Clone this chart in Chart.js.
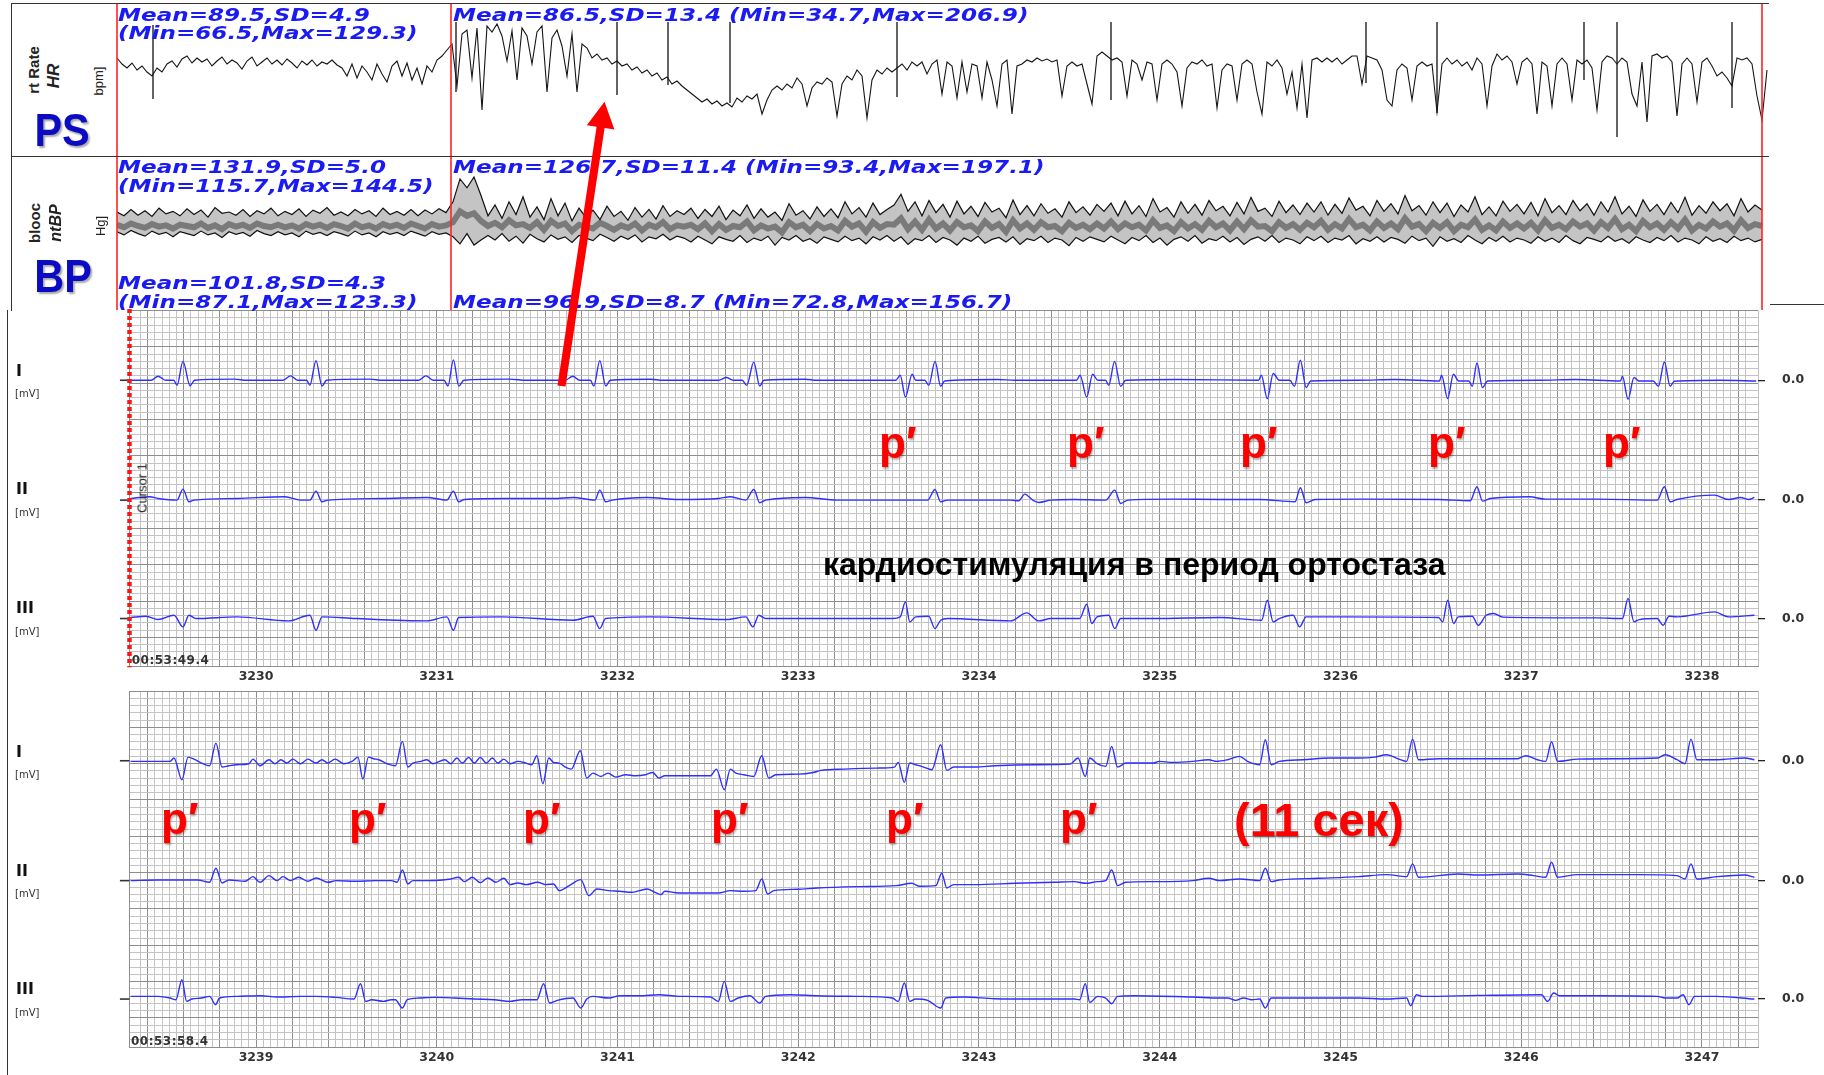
<!DOCTYPE html>
<html lang="ru">
<head>
<meta charset="UTF-8">
<title>Кардиостимуляция в период ортостаза</title>
<script src="https://cdn.jsdelivr.net/npm/chart.js"></script>
<style>
  html, body { margin: 0; padding: 0; background: #fff; }
  #page { position: relative; width: 1824px; height: 1075px; overflow: hidden; background: #fff; }
  #page canvas { position: absolute; }
  .lbl { position: absolute; white-space: nowrap; line-height: 1; }
  .stat { font: italic bold 17.5px "DejaVu Sans", sans-serif; color: #1a1af2; transform: scaleX(1.32); transform-origin: 0 0; }
  .big { font: bold 46px "Liberation Sans", Arial, sans-serif; color: #0b0bc4; text-shadow: 2px 2px 2px rgba(0,0,0,.35); }
  .side { font: bold 15px "Liberation Sans", Arial, sans-serif; color: #222; }
  .lead { font: bold 16px "DejaVu Sans", sans-serif; color: #111; }
  .unit { font: 10px "DejaVu Sans", sans-serif; color: #333; }
  .stamp { font: bold 12px "DejaVu Sans", sans-serif; color: #333; letter-spacing: .5px; }
  .pp { font: bold 44px "Liberation Sans", Arial, sans-serif; color: #f00; text-shadow: 1px 2px 2px rgba(0,0,0,.3); }
  .note { font: bold 32px "Liberation Sans", Arial, sans-serif; color: #000; }
  .rule { position: absolute; background: #333; }
  #arrow { position: absolute; left: 0; top: 0; z-index: 5; }
</style>
</head>
<body>
<div id="page">
  <canvas id="hr" width="1665" height="158" style="left:110px;top:0"></canvas>
  <canvas id="bp" width="1665" height="156" style="left:110px;top:156px"></canvas>
  <canvas id="ecg1" width="1824" height="400" style="left:0;top:295px"></canvas>
  <canvas id="ecg2" width="1824" height="399" style="left:0;top:676px"></canvas>
  <svg id="arrow" width="1824" height="1075">
    <polygon points="557.5,385.4 596.6,126.8 586.8,125.3 604.5,101.7 614.4,129.5 604.6,128 565.5,386.6" fill="#ff0000"/>
  </svg>
</div>

<script>
// ---- trend panel (PS / BP), time in s from the first marker ----
const trendSpan = 1652;
const markerTimes = [0, 334, 1645];

// heart rate, one value every 5 s
const hrStep = 5;
const hrValues = [
  98,92,88,93,86,90,84,80,88,84,92,95,89,97,100,93,98,94,97,90,95,99,92,96,93,87,95,99,90,94,98,92,96,91,97,93,88,95,91,96,90,94,92,96,91,
  88,80,92,78,90,84,76,92,82,74,90,95,80,93,76,88,72,90,84,96,100,106,
  112,70,122,126,78,128,46,130,124,132,120,95,125,76,128,120,92,124,130,64,118,126,110,80,122,64,112,108,98,102,
  96,98,92,95,90,92,86,89,83,86,80,83,76,79,72,75,70,66,62,58,54,57,52,55,50,53,49,
  58,54,60,57,62,42,56,66,70,66,72,68,78,72,50,68,74,72,78,74,40,72,80,76,86,80,38,76,86,82,
  88,84,88,92,86,94,90,94,82,92,96,62,94,90,58,94,64,92,90,58,94,76,50,92,96,42,90,
  92,96,94,98,95,97,94,96,60,90,94,90,92,72,52,100,104,100,96,98,94,60,96,92,76,94,92,56,92,96,
  92,84,50,88,94,92,96,90,92,48,
  86,92,90,56,92,96,92,64,42,94,90,96,88,62,84,48,92,38,96,98,94,98,94,98,92,96,100,100,72,100,
  98,96,86,56,50,86,92,88,56,90,94,90,92,
  44,92,98,92,96,90,94,86,98,92,50,90,102,96,100,94,72,94,98,92,42,94,90,50,92,98,92,56,96,92,
  96,88,46,94,100,98,92,98,94,62,50,94,34,100,102,98,100,94,40,92,98,92,54,94,98,90,80,84,78,70,
  98,96,98,92,60,36,86
];
// artefact spikes in the HR trace
const spikeTimes = [36, 339, 500, 551, 613, 780, 994, 1249, 1320, 1467, 1500, 1615];
const spikeLow   = [57, 64, 61, 71, 53, 59, 56, 73, 43, 76, 19, 48];
const spikeHigh  = [131, 134, 134, 134, 134, 134, 134, 134, 134, 134, 134, 134];

// blood pressure, one value every 7 s
const bpStep = 7;
const bpSys = [
  134,128,138,129,136,127,140,131,135,128,139,130,137,126,141,132,134,129,138,127,136,131,140,128,135,130,139,127,137,132,
  141,129,134,128,138,131,136,127,140,130,135,129,138,128,137,131,139,133,
  150,186,172,189,160,
  128,145,124,150,130,158,126,142,122,155,128,148,120,140,125,137,122,143,127,135,121,141,126,138,123,144,127,136,
  130,140,124,138,127,143,122,137,128,145,124,139,126,134,121,147,129,136,123,142,127,139,125,150,131,141,126,148,130,138,
  145,162,135,150,128,152,133,146,126,151,131,143,127,149,134,140,125,153,130,144,128,147,132,139,126,150,133,142,129,146,
  135,148,128,151,131,144,127,155,134,141,126,150,132,146,129,152,136,143,128,149,131,157,135,140,127,151,133,145,130,148,
  134,150,129,146,132,156,137,143,128,152,135,147,131,160,136,144,129,150,133,148,127,145,134,158,130,142,128,151,135,146,
  131,149,128,155,133,144,130,152,136,147,129,150,134,158,131,143,127,153,135,146,130,149,133,157,129,144,132,150,136,147,
  128,155,134,145,137
];
const bpMean = [
  114,110,116,112,109,115,111,113,108,114,112,110,116,109,113,107,115,111,114,109,116,112,110,114,110,113,108,115,111,114,
  109,115,112,108,116,110,113,108,115,111,114,109,116,112,108,115,111,113,
  118,135,128,132,120,
  112,117,110,121,113,115,109,118,106,120,112,116,104,114,111,108,117,112,106,113,109,116,105,114,110,118,107,113,
  111,114,107,116,104,115,106,112,110,119,105,113,108,111,102,118,110,114,104,115,108,112,105,120,111,116,103,118,109,115,
  114,124,107,119,106,122,108,116,105,118,110,113,104,119,109,115,103,121,108,116,106,118,110,112,104,117,109,114,107,116,
  108,119,107,116,110,114,105,121,109,113,104,118,108,115,106,120,110,116,105,119,107,121,111,112,104,118,109,115,106,117,
  110,120,106,115,108,123,110,114,105,119,109,116,107,124,111,115,104,117,109,118,104,114,110,122,106,113,105,119,109,116,
  108,117,105,121,109,114,107,119,111,116,105,118,109,123,107,114,104,120,110,116,106,118,108,122,105,114,108,119,111,116,
  105,121,109,115,112
];
const bpDia = [
  103,98,105,100,96,104,99,102,95,103,100,97,104,98,101,94,103,99,102,96,105,100,97,103,98,101,95,104,99,102,
  97,103,100,96,104,98,101,95,103,99,102,97,104,100,96,103,99,101,
  95,84,100,82,90,
  97,90,100,88,96,85,99,92,87,98,91,95,86,97,93,89,99,94,88,96,91,98,87,95,92,99,90,96,
  93,87,96,90,84,95,91,88,97,86,93,89,96,82,94,90,97,88,92,85,95,91,87,96,89,93,84,95,90,97,
  88,95,83,92,89,97,86,94,90,82,93,88,96,85,91,94,87,95,83,92,89,96,86,93,90,81,94,88,95,91,
  87,96,90,84,94,89,97,86,93,82,91,95,88,97,85,92,89,96,87,94,83,91,95,88,97,86,93,90,84,95,
  89,96,86,93,90,97,84,92,88,95,87,94,91,85,96,89,93,80,95,88,92,86,97,90,84,94,88,96,87,93,
  90,85,95,88,93,86,97,89,84,94,91,87,96,88,92,85,95,90,86,94,89,97,87,93,90,84,95,88,92,86,
  96,89,93,87,91
];

// ---- ECG strips: [seconds from strip start, mV] pairs ----
const stripStart = [3229.3, 3238.3];
const stripSeconds = 9.01;
const leadNames = ['I', 'II', 'III'];

const ecg1I = [
  0.006,0, 0.12,0, 0.158,0.055, 0.2,0, 0.245,0, 0.263,-0.07, 0.296,0.26, 0.335,-0.075, 0.36,0, 0.58,0.015, 0.65,0,
  0.85,0, 0.891,0.06, 0.93,0, 0.98,0, 0.998,-0.07, 1.032,0.27, 1.065,-0.08, 1.09,0, 1.33,0.015, 1.4,0,
  1.6,0, 1.64,0.06, 1.68,0, 1.74,0, 1.762,-0.08, 1.792,0.28, 1.822,-0.08, 1.85,0, 2.1,0.015, 2.2,0,
  2.41,0, 2.453,0.055, 2.49,0, 2.55,0, 2.569,-0.08, 2.602,0.27, 2.635,-0.08, 2.66,0, 2.884,0.014, 2.95,0,
  3.26,0, 3.302,0.037, 3.34,0, 3.39,0, 3.415,-0.07, 3.454,0.25, 3.487,-0.08, 3.51,0, 3.74,0.014, 3.8,0,
  4.24,0, 4.264,0.069, 4.293,-0.23, 4.33,0.083, 4.35,0, 4.4,0, 4.422,-0.07, 4.457,0.26, 4.488,-0.083, 4.51,-0.01, 4.8,0.01, 4.9,0,
  5.24,0, 5.259,0.069, 5.296,-0.23, 5.329,0.083, 5.357,0, 5.4,0, 5.418,-0.07, 5.45,0.26, 5.484,-0.083, 5.512,0, 5.8,0.01,
  6.247,0, 6.262,0.069, 6.295,-0.253, 6.328,0.092, 6.361,0, 6.42,0, 6.445,-0.083, 6.478,0.275, 6.51,-0.101, 6.535,-0.01, 6.8,0, 7.0,0.01,
  7.248,-0.01, 7.259,0.069, 7.293,-0.253, 7.325,0.083, 7.354,-0.01, 7.41,-0.01, 7.429,-0.083, 7.455,0.238, 7.486,-0.101, 7.514,-0.01, 7.8,0, 8.0,0.01,
  8.249,-0.01, 8.26,0.055, 8.291,-0.262, 8.324,0.037, 8.35,-0.01, 8.43,-0.01, 8.459,-0.083, 8.492,0.252, 8.524,-0.083, 8.547,-0.014, 8.8,0, 9.0,-0.01
];
const ecg1II = [
  0.006,0.023, 0.113,0.046, 0.158,0.023, 0.263,0, 0.296,0.152, 0.329,-0.023, 0.357,0, 0.595,0.023, 0.86,0.046, 0.946,0,
  0.998,0, 1.032,0.124, 1.065,-0.023, 1.098,0, 1.4,0.023, 1.645,0.037, 1.756,0, 1.792,0.124, 1.821,-0.023, 1.853,0.009,
  2.082,0.023, 2.346,0.023, 2.453,0.037, 2.575,0, 2.602,0.138, 2.635,-0.023, 2.669,0, 2.862,0.037, 3.039,0.009, 3.258,0.023,
  3.324,0.046, 3.41,0, 3.454,0.147, 3.487,-0.037, 3.52,0, 3.74,0.037, 3.913,0, 4.134,0, 4.416,0, 4.456,0.147, 4.488,-0.023,
  4.527,0, 4.787,0, 4.876,0, 4.92,-0.009, 4.953,0.083, 4.997,0, 5.031,-0.032, 5.097,0, 5.227,0.009, 5.401,0, 5.451,0.138,
  5.484,-0.046, 5.523,0, 5.772,0.014, 6.032,0.009, 6.253,0.009, 6.449,-0.023, 6.478,0.17, 6.51,-0.037, 6.559,0.009, 6.8,0.014,
  7.243,0.009, 7.418,-0.009, 7.455,0.184, 7.486,-0.014, 7.528,0.023, 7.746,0.046, 7.835,0.014, 8.122,0.014, 8.452,0, 8.492,0.184,
  8.524,-0.023, 8.562,0.009, 8.769,0.069, 8.847,0.009, 8.913,0.037, 8.957,0.009, 8.99,0.037
];
const ecg1III = [
  0.006,0.014, 0.091,0.032, 0.158,-0.014, 0.246,0.046, 0.296,-0.115, 0.329,0.046, 0.368,0, 0.595,0.023, 0.88,-0.032, 0.998,0.046,
  1.032,-0.161, 1.065,0.023, 1.253,0, 1.645,-0.032, 1.756,0.023, 1.792,-0.161, 1.821,0.014, 2.06,0.023, 2.453,-0.023, 2.564,0.032,
  2.602,-0.138, 2.634,0, 2.884,0.023, 3.302,-0.014, 3.41,0.023, 3.449,-0.115, 3.482,0.046, 3.52,0, 4.221,0, 4.264,0.023,
  4.293,0.23, 4.317,-0.046, 4.35,0.023, 4.422,0.032, 4.456,-0.138, 4.488,-0.023, 4.527,0, 4.876,-0.032, 4.964,0.078, 5.031,-0.032,
  5.097,0, 5.257,0, 5.296,0.197, 5.324,-0.069, 5.353,0.023, 5.418,0.046, 5.451,-0.138, 5.484,0, 5.664,0, 6.032,0.014,
  6.264,-0.023, 6.295,0.252, 6.328,-0.046, 6.361,0, 6.438,0.046, 6.474,-0.115, 6.51,0.023, 6.69,0.023, 7.243,0.014, 7.265,-0.046,
  7.293,0.252, 7.326,-0.069, 7.351,0.023, 7.429,0.032, 7.462,-0.092, 7.506,0.046, 7.547,0.069, 7.6,0.02, 8.122,0.009, 8.26,0,
  8.291,0.275, 8.324,-0.046, 8.353,-0.014, 8.452,0, 8.485,-0.092, 8.518,0.032, 8.562,0.023, 8.769,0.092, 8.847,0.023, 8.99,0.046
];
const ecg2I = [
  0.006,-0.009, 0.224,-0.009, 0.246,0.037, 0.29,-0.262, 0.324,0.05, 0.357,0.023, 0.399,-0.032, 0.443,-0.069, 0.478,0.243, 0.512,-0.087,
  0.55,-0.069, 0.595,-0.055, 0.661,-0.041, 0.683,0.023, 0.722,-0.069, 0.772,0.014, 0.805,-0.041, 0.838,0.014, 0.871,-0.032, 0.904,0.023,
  0.946,-0.041, 0.987,0.023, 1.032,-0.032, 1.065,0.014, 1.098,-0.032, 1.137,0.023, 1.186,-0.041, 1.231,-0.009,
  1.264,0.05, 1.291,-0.252, 1.322,0.05, 1.351,0.028, 1.379,0.014, 1.427,-0.041, 1.471,-0.069, 1.51,0.266, 1.54,-0.087, 1.568,-0.032,
  1.612,-0.009, 1.645,0.014, 1.679,-0.041, 1.745,0.014, 1.778,-0.041, 1.811,0.037, 1.842,-0.032, 1.876,0.046, 1.908,-0.032, 1.941,0.046,
  1.974,-0.032, 2.007,0.037, 2.039,-0.032, 2.071,0.023, 2.105,-0.041, 2.149,-0.009, 2.193,-0.032, 2.225,-0.055,
  2.254,0.069, 2.287,-0.317, 2.32,0.037, 2.346,-0.023, 2.378,-0.032, 2.411,-0.087, 2.444,-0.115, 2.494,0.138, 2.53,-0.239, 2.564,-0.17,
  2.608,-0.216, 2.647,-0.17, 2.691,-0.225, 2.746,-0.193, 2.799,-0.207, 2.854,-0.193, 2.895,-0.161, 2.929,-0.239, 2.962,-0.207, 3.215,-0.207,
  3.247,-0.115, 3.291,-0.399, 3.324,-0.115, 3.355,-0.17, 3.399,-0.193, 3.454,-0.216, 3.498,0.069, 3.537,-0.239, 3.576,-0.193, 3.697,-0.184,
  3.783,-0.161, 3.825,-0.133, 3.957,-0.115, 4.134,-0.101, 4.232,-0.087,
  4.253,-0.023, 4.287,-0.298, 4.317,-0.032, 4.35,-0.055, 4.394,-0.087, 4.439,-0.124, 4.488,0.22, 4.522,-0.133, 4.56,-0.087, 4.68,-0.087,
  4.787,-0.069, 5.008,-0.055, 5.205,-0.046,
  5.248,0.037, 5.288,-0.216, 5.313,0.037, 5.353,-0.041, 5.401,-0.078, 5.434,0.197, 5.467,-0.087, 5.512,-0.032, 5.664,-0.032, 5.697,-0.009,
  5.772,-0.023, 5.882,-0.009, 5.971,0.014, 6.015,-0.009,
  6.076,0.014, 6.142,0.06, 6.186,-0.009, 6.253,-0.055, 6.284,0.289, 6.317,-0.055, 6.361,-0.009, 6.493,0.014, 6.645,0.037, 6.8,0.037,
  6.889,0.05, 6.955,0.083, 7.022,0.023, 7.066,-0.009, 7.099,0.298, 7.132,0.014, 7.243,0.028, 7.68,0.028, 7.724,0.069, 7.79,0.014,
  7.835,-0.009, 7.868,0.262, 7.901,-0.009, 8.012,0.023, 8.233,0.028, 8.454,0.037, 8.496,0.083, 8.562,0.014, 8.606,-0.041, 8.639,0.298,
  8.672,0.014, 8.781,0.014, 8.935,0.037, 8.99,0.014
];
const ecg2II = [
  0.006,0, 0.158,0.009, 0.377,0.009, 0.443,-0.023, 0.478,0.17, 0.512,-0.032, 0.55,0.009, 0.639,-0.009, 0.683,0.055, 0.722,-0.023,
  0.772,0.069, 0.816,0, 0.849,0.055, 0.891,0, 0.935,0.046, 0.987,-0.009, 1.032,0.037, 1.098,-0.023, 1.142,0, 1.253,-0.009,
  1.361,0, 1.449,0, 1.48,-0.023, 1.51,0.147, 1.54,-0.046, 1.568,0, 1.645,0, 1.734,0.009, 1.778,0.023, 1.821,0.046,
  1.853,-0.014, 1.897,0.046, 1.941,-0.028, 1.983,0.037, 2.027,-0.023, 2.071,0.032, 2.105,-0.055, 2.149,-0.032, 2.193,-0.055, 2.259,-0.023,
  2.302,-0.055, 2.346,-0.046, 2.378,-0.138, 2.433,-0.069, 2.497,0.014, 2.541,-0.207, 2.586,-0.115, 2.652,-0.138, 2.713,-0.147, 2.779,-0.161,
  2.821,-0.138, 2.864,-0.115, 2.907,-0.161, 2.94,-0.193, 2.962,-0.147, 3.039,-0.17, 3.258,-0.17, 3.324,-0.138, 3.399,-0.147, 3.465,-0.138,
  3.498,0.023, 3.531,-0.184, 3.565,-0.138, 3.697,-0.119, 3.805,-0.101, 4.024,-0.083, 4.243,-0.069, 4.328,-0.037, 4.372,-0.078, 4.461,-0.069,
  4.494,0.101, 4.522,-0.101, 4.56,-0.055, 4.68,-0.055, 4.898,-0.037, 5.117,-0.023, 5.227,-0.014, 5.29,-0.037, 5.357,-0.014, 5.401,0,
  5.434,0.147, 5.467,-0.069, 5.512,-0.023, 5.664,-0.014, 5.882,0, 5.971,0.032, 6.032,0, 6.142,0.023, 6.253,0, 6.284,0.17,
  6.317,-0.014, 6.361,0.009, 6.579,0.032, 6.8,0.055, 6.955,0.083, 7.066,0.055, 7.099,0.23, 7.132,0.046, 7.351,0.092, 7.462,0.078,
  7.68,0.092, 7.768,0.069, 7.835,0.046, 7.868,0.252, 7.901,0.046, 8.012,0.083, 8.342,0.083, 8.562,0.069, 8.606,0.023, 8.639,0.23,
  8.672,0.023, 8.781,0.055, 8.935,0.078, 8.99,0.046
];
const ecg2III = [
  0.006,0.037, 0.158,0.037, 0.224,0.014, 0.257,-0.009, 0.29,0.266, 0.316,-0.032, 0.345,0, 0.399,0.014, 0.443,0.037, 0.476,-0.078,
  0.498,0.014, 0.595,0.037, 0.727,0.046, 0.816,0.028, 0.946,0.037, 1.032,0.037, 1.142,0.023, 1.242,0, 1.278,0.211, 1.307,-0.032,
  1.34,-0.009, 1.405,-0.032, 1.449,-0.009, 1.471,-0.009, 1.51,-0.124, 1.537,-0.009, 1.601,0.014, 1.69,0.023, 1.799,0.014, 1.908,0,
  2.018,-0.009, 2.105,-0.032, 2.171,-0.009, 2.254,-0.009, 2.291,0.211, 2.324,-0.055, 2.367,-0.018, 2.453,0.014, 2.497,-0.124, 2.53,0,
  2.564,0.037, 2.652,0.014, 2.713,0.046, 2.821,0.046, 2.929,0.06, 3.039,0.037, 3.215,0.028, 3.258,-0.032, 3.291,0.243, 3.324,-0.032,
  3.368,0.014, 3.432,0.046, 3.487,-0.055, 3.52,0.037, 3.653,0.06, 3.805,0.046, 4.024,0.037, 4.221,0.014, 4.253,-0.032, 4.287,0.22,
  4.317,-0.032, 4.35,0, 4.416,-0.018, 4.488,-0.124, 4.516,0.014, 4.615,0.028, 4.787,0.005, 5.008,0, 5.227,0, 5.257,-0.009,
  5.288,0.211, 5.313,-0.046, 5.357,0.037, 5.401,0.014, 5.434,-0.064, 5.467,0.037, 5.556,0.046, 5.882,0.028, 6.032,0.014, 6.076,0.014,
  6.12,-0.018, 6.164,0.014, 6.209,-0.009, 6.253,0, 6.284,-0.124, 6.317,0.014, 6.471,0.014, 6.8,0.014, 6.955,0, 7.066,0.014,
  7.088,-0.092, 7.121,0.06, 7.154,0.037, 7.462,0.05, 7.812,0.06, 7.846,-0.032, 7.879,0.083, 7.912,0.046, 8.122,0.046, 8.452,0.037,
  8.496,0.014, 8.562,0.014, 8.595,0.06, 8.628,-0.078, 8.659,0.037, 8.781,0.037, 8.99,0
];
// calibration pulse before each lead (the first one is drawn broken in the source)
const calPulse = [-0.174,0, -0.111,0, -0.111,0.65, -0.053,0.65, -0.053,0, 0,0];
const calPulseBroken = [-0.174,0, -0.111,0, -0.111,0.31, -0.08,null, -0.053,0.65, -0.053,0, 0,0];

// layout of the strip: baseline of each lead inside a 4.9 mV high grid
const leadBase = [-0.96, -2.61, -4.24];
const gridMin = -4.9;

Chart.defaults.font.family = '"DejaVu Sans", sans-serif';

function pairs(flat, t0, off) {
  const out = [];
  for (let i = 0; i < flat.length; i += 2) {
    const v = flat[i + 1];
    out.push({ x: t0 + flat[i], y: v === null ? null : v + off });
  }
  return out;
}

function markerSets(lo, hi) {
  return markerTimes.map(t => ({
    data: [{ x: t, y: lo }, { x: t, y: hi }],
    borderColor: '#ff2424', borderWidth: 1.6, pointRadius: 0, clip: false
  }));
}

const baseOpts = {
  responsive: false, animation: false, devicePixelRatio: 1, events: [],
  plugins: { legend: { display: false }, tooltip: { enabled: false }, filler: { drawTime: 'beforeDatasetsDraw' } }
};

// heart-rate trend
const spikeData = [];
spikeTimes.forEach((t, i) => {
  spikeData.push({ x: t, y: spikeLow[i] }, { x: t, y: spikeHigh[i] }, { x: t, y: null });
});
new Chart(document.getElementById('hr'), {
  type: 'line',
  data: {
    datasets: [
      ...markerSets(0, 153),
      { data: hrValues.map((v, i) => ({ x: i * hrStep, y: v })), borderColor: '#151515', borderWidth: 1.1, pointRadius: 0 },
      { data: spikeData, borderColor: '#111', borderWidth: 1.3, pointRadius: 0, spanGaps: false }
    ]
  },
  options: {
    ...baseOpts,
    layout: { padding: { left: 7, right: 6, top: 3, bottom: 2 } },
    scales: {
      x: { type: 'linear', min: 0, max: trendSpan, display: false },
      y: { min: 0, max: 153, display: false }
    }
  }
});

// blood-pressure trend: systolic / diastolic envelope with mean line
new Chart(document.getElementById('bp'), {
  type: 'line',
  data: {
    datasets: [
      ...markerSets(-20, 222),
      { data: bpSys.map((v, i) => ({ x: i * bpStep, y: v })), borderColor: '#111', borderWidth: 1.2, pointRadius: 0,
        fill: '+1', backgroundColor: '#c4c4c4' },
      { data: bpDia.map((v, i) => ({ x: i * bpStep, y: v })), borderColor: '#111', borderWidth: 1.2, pointRadius: 0 },
      { data: bpMean.map((v, i) => ({ x: i * bpStep, y: v })), borderColor: '#7a7a7a', borderWidth: 6, pointRadius: 0 }
    ]
  },
  options: {
    ...baseOpts,
    layout: { padding: { left: 7, right: 6, top: 0, bottom: 2 } },
    scales: {
      x: { type: 'linear', min: 0, max: trendSpan, display: false },
      y: { min: -20, max: 222, display: false }
    }
  }
});

// ECG strips
function near(v, step) { return Math.abs(v / step - Math.round(v / step)) < 1e-6; }
const tickFont = { family: '"DejaVu Sans", sans-serif', size: 12.5, weight: 'bold' };
const minorGrid = '#c3c3c3', majorGrid = '#8e8e8e';

function ecgStrip(id, s, leads, padTop, axisH) {
  const t0 = stripStart[s];
  const ds = [];
  if (s === 0) {
    ds.push({ data: [{ x: t0, y: 0.02 }, { x: t0, y: gridMin - 0.01 }], borderColor: '#ff1414', borderWidth: 4.5,
      borderDash: [4, 3], pointRadius: 0, clip: false });
  }
  leads.forEach((flat, k) => {
    ds.push({ data: pairs(flat, t0, leadBase[k]), borderColor: '#2f2fff', borderWidth: 1.4, pointRadius: 0,
      cubicInterpolationMode: 'monotone' });
    ds.push({ data: pairs(s === 0 && k === 0 ? calPulseBroken : calPulse, t0, leadBase[k]), borderColor: '#333',
      borderWidth: 1.6, pointRadius: 0, clip: false, spanGaps: false });
  });
  return new Chart(document.getElementById(id), {
    type: 'line',
    data: { datasets: ds },
    options: {
      ...baseOpts,
      layout: { padding: { left: 129.5, right: 0, top: padTop, bottom: 0 } },
      scales: {
        x: {
          type: 'linear', min: t0, max: t0 + stripSeconds,
          ticks: { stepSize: 0.04, autoSkip: false, maxRotation: 0, padding: 3, color: '#333', font: tickFont,
            callback: v => near(v, 1) ? String(Math.round(v)) : '' },
          grid: { color: c => near(c.tick.value, 0.2) ? majorGrid : minorGrid, lineWidth: 1, drawTicks: false },
          border: { color: majorGrid },
          afterFit: sc => { sc.height = axisH; sc.paddingLeft = 0; sc.paddingRight = 0; }
        },
        y: {
          min: gridMin, max: 0, position: 'left',
          ticks: { display: false, stepSize: 0.1 },
          grid: { color: c => near(c.tick.value, 0.5) ? majorGrid : minorGrid, lineWidth: 1, drawTicks: false },
          border: { color: majorGrid },
          afterFit: sc => { sc.width = 0; sc.paddingTop = 0; sc.paddingBottom = 0; }
        },
        yLead: {
          min: gridMin, max: 0, position: 'right',
          afterBuildTicks: sc => { sc.ticks = leadBase.map(v => ({ value: v })); },
          ticks: { callback: () => '0.0', color: '#333', font: tickFont, padding: 17 },
          grid: { drawOnChartArea: false, color: '#222', tickLength: 7, lineWidth: 1.3 },
          border: { display: false },
          afterFit: sc => { sc.width = 66; sc.paddingTop = 0; sc.paddingBottom = 0; }
        }
      }
    }
  });
}
ecgStrip('ecg1', 0, [ecg1I, ecg1II, ecg1III], 15.5, 28.5);
ecgStrip('ecg2', 1, [ecg2I, ecg2II, ecg2III], 15, 28);

// ---- frame, labels and annotations ----
const page = document.getElementById('page');
const arrow = document.getElementById('arrow');
function put(text, cls, x, base, size, style) {
  const d = document.createElement('div');
  d.className = 'lbl ' + cls;
  d.textContent = text;
  d.style.left = x + 'px';
  d.style.top = (base - 0.85 * size) + 'px';
  if (style) Object.assign(d.style, style);
  page.insertBefore(d, arrow);
  return d;
}
function putRot(text, cls, cx, cy, style) {
  const d = document.createElement('div');
  d.className = 'lbl ' + cls;
  d.textContent = text;
  d.style.left = cx + 'px';
  d.style.top = cy + 'px';
  d.style.transform = 'translate(-50%,-50%) rotate(-90deg)';
  if (style) Object.assign(d.style, style);
  page.insertBefore(d, arrow);
}
function rule(x, y, w, h) {
  const d = document.createElement('div');
  d.className = 'rule';
  Object.assign(d.style, { left: x + 'px', top: y + 'px', width: w + 'px', height: h + 'px' });
  page.insertBefore(d, arrow);
}

rule(11, 2.5, 1758, 1.5);
rule(11, 155.5, 1758, 1.5);
rule(10.5, 2.5, 1.5, 308);
rule(6.5, 310, 1.5, 765);
rule(1770, 303.5, 54, 1.5);

// trend panel side labels
putRot('rt Rate', 'side', 33, 70);
putRot('HR', 'side', 54, 76, { fontStyle: 'italic', fontSize: '17px' });
putRot('bpm]', 'side', 98, 81, { fontWeight: 'normal', fontSize: '13px' });
putRot('blooc', 'side', 34, 223);
putRot('ntBP', 'side', 56, 223, { fontStyle: 'italic', fontSize: '16px' });
putRot('Hg]', 'side', 100, 226, { fontWeight: 'normal', fontSize: '13px' });
put('PS', 'big', 61.5, 142, 46, { transform: 'translateX(-50%) scaleX(0.9)' });
put('BP', 'big', 62.5, 288.5, 46, { transform: 'translateX(-50%) scaleX(0.9)' });

// trend statistics
put('Mean=89.5,SD=4.9', 'stat', 118, 19.5, 17.5);
put('(Min=66.5,Max=129.3)', 'stat', 118, 37.5, 17.5);
put('Mean=86.5,SD=13.4 (Min=34.7,Max=206.9)', 'stat', 452.7, 19.5, 17.5);
put('Mean=131.9,SD=5.0', 'stat', 118, 172, 17.5);
put('(Min=115.7,Max=144.5)', 'stat', 118, 190.5, 17.5);
put('Mean=126.7,SD=11.4 (Min=93.4,Max=197.1)', 'stat', 452.7, 172, 17.5);
put('Mean=101.8,SD=4.3', 'stat', 118, 288, 17.5);
put('(Min=87.1,Max=123.3)', 'stat', 118, 307, 17.5);
put('Mean=96.9,SD=8.7 (Min=72.8,Max=156.7)', 'stat', 452.7, 307, 17.5);

// ECG lead labels
[[375, 396.6, 493, 515, 612, 634], [756, 777.5, 875, 896.5, 993, 1015.5]].forEach(b => {
  leadNames.forEach((n, k) => {
    put(n, 'lead', 16, b[2 * k], 16);
    put('[mV]', 'unit', 15, b[2 * k + 1], 10);
  });
});
put('00:53:49.4', 'stamp', 131.7, 663.5, 12);
put('00:53:58.4', 'stamp', 131, 1044.5, 12);
putRot('Cursor 1', 'side', 142, 488, { fontWeight: 'normal', fontSize: '13px' });

// annotations
[879, 1067, 1240, 1428, 1603].forEach(x => put('p\u2032', 'pp', x, 455, 44));
[161, 349, 523, 711, 886, 1060].forEach(x => put('p\u2032', 'pp', x, 831, 44));
put('(11 сек)', 'pp', 1234, 832, 47, { fontSize: '47px' });
put('кардиостимуляция в период ортостаза', 'note', 823, 573, 32);
</script>
</body>
</html>
